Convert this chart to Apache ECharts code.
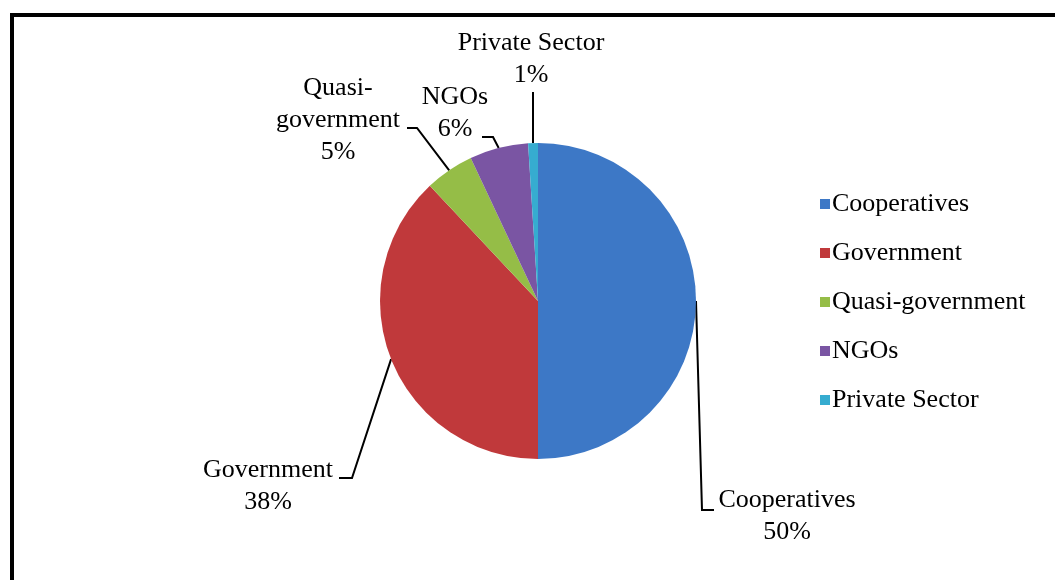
<!DOCTYPE html>
<html>
<head>
<meta charset="utf-8">
<script src="https://cdn.jsdelivr.net/npm/echarts@6/dist/echarts.min.js"></script>
<style>
  html, body { margin: 0; padding: 0; background: #fff; }
  #chart { width: 1055px; height: 580px; position: relative; }
  #frame {
    position: absolute; left: 10px; top: 13px; width: 1100px; height: 620px;
    border-left: 4px solid #000; border-top: 4px solid #000; box-sizing: border-box;
    pointer-events: none; z-index: 5;
  }
</style>
</head>
<body>
<div id="chart"></div>
<div id="frame"></div>
<script>
// Sector shares of the total, in percent
const categories = ['Cooperatives', 'Government', 'Quasi-government', 'NGOs', 'Private Sector'];
const shares = [50, 38, 5, 6, 1];
const colors = ['#3d78c6', '#c0393b', '#95bd47', '#7a55a3', '#36acd0'];

// Where each outside label sits (text centre) and how its leader line bends
const labelPlacement = {
  'Cooperatives':     { x: 787, y: 516, elbow: [[702, 510], [714, 510]] },
  'Government':       { x: 268, y: 486, elbow: [[352, 478], [339, 478]] },
  'Quasi-government': { x: 338, y: 120, elbow: [[417, 128], [407, 128]] },
  'NGOs':             { x: 455, y: 113, elbow: [[493, 137], [482, 137]] },
  'Private Sector':   { x: 531, y: 59,  elbow: [[533, 92]] }
};

const font = '"Liberation Serif", "Times New Roman", serif';
const chart = echarts.init(document.getElementById('chart'), null, { renderer: 'canvas' });

chart.setOption({
  animation: false,
  color: colors,
  legend: {
    orient: 'vertical',
    left: 820,
    top: 191,
    padding: 0,
    itemWidth: 10,
    itemHeight: 10,
    itemGap: 23,
    icon: 'rect',
    data: categories,
    textStyle: { fontFamily: font, fontSize: 26, color: '#000', padding: [0, 0, 0, -3] }
  },
  series: [{
    type: 'pie',
    center: [538, 301],
    radius: 158,
    startAngle: 90,
    clockwise: true,
    avoidLabelOverlap: false,
    data: categories.map((name, i) => ({ name, value: shares[i] })),
    itemStyle: { borderWidth: 0 },
    label: {
      show: true,
      position: 'outside',
      fontFamily: font,
      fontSize: 26,
      lineHeight: 32,
      color: '#000',
      align: 'center',
      formatter: p => p.name.replace(/-(?=\w)/, '-\n') + '\n' + p.percent + '%'
    },
    labelLine: {
      show: true,
      length: 10,
      length2: 10,
      smooth: false,
      lineStyle: { color: '#000', width: 2 }
    },
    labelLayout: function (params) {
      const name = categories[params.dataIndex];
      const place = labelPlacement[name];
      const anchor = params.labelLinePoints ? params.labelLinePoints[0] : null;
      const out = { x: place.x, y: place.y, align: 'center', verticalAlign: 'middle' };
      if (anchor) out.labelLinePoints = [anchor].concat(place.elbow);
      return out;
    }
  }]
});
</script>
</body>
</html>
